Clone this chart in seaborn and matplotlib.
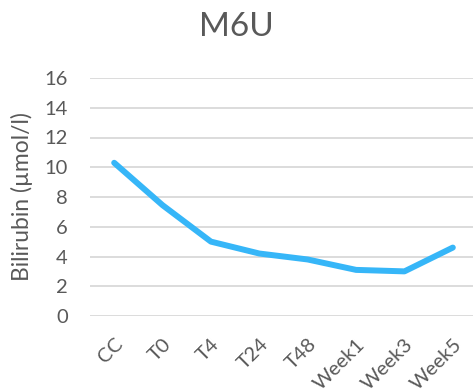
import matplotlib
matplotlib.use("Agg")
import matplotlib.pyplot as plt
import seaborn as sns
import pandas as pd

timepoints = ["CC", "T0", "T4", "T24", "T48", "Week1", "Week3", "Week5"]
bilirubin = [10.3, 7.45, 5.0, 4.2, 3.8, 3.1, 3.0, 4.6]
y_ticks = [0, 2, 4, 6, 8, 10, 12, 14, 16]

df = pd.DataFrame({"timepoint": timepoints, "bilirubin": bilirubin})

sns.set_theme(style="white")
plt.rcParams["font.family"] = ["Lato", "DejaVu Sans"]

text_color = "#595959"
fig = plt.figure(figsize=(4.73, 3.91), dpi=100)
ax = fig.add_axes([90 / 473, 75 / 391, 387 / 473, 238 / 391])

sns.lineplot(data=df, x="timepoint", y="bilirubin", sort=False, ax=ax,
             color="#36B6F8", linewidth=4.3, solid_capstyle="round",
             solid_joinstyle="round")

ax.set_xlim(-0.5, len(timepoints) - 0.5)
ax.set_ylim(0, 16)
ax.set_yticks(y_ticks)
ax.set_yticklabels([str(v) for v in y_ticks])
ax.yaxis.grid(True, color="#D9D9D9", linewidth=1.3)
ax.set_axisbelow(True)
for s in ax.spines.values():
    s.set_visible(False)
ax.tick_params(axis="both", length=0, labelsize=14.5, labelcolor=text_color)
ax.tick_params(axis="y", pad=16)
ax.tick_params(axis="x", pad=14)
for lbl in ax.get_xticklabels():
    lbl.set_rotation(45)
    lbl.set_ha("right")
    lbl.set_rotation_mode("anchor")

ax.set_xlabel("")
ax.set_ylabel("Bilirubin (µmol/l)", fontsize=16.5, color=text_color, labelpad=8)
fig.text(0.5, 1 - 36 / 391, "M6U", ha="center", va="baseline",
         fontsize=24, color=text_color)

fig.savefig("out.png", dpi=100)
